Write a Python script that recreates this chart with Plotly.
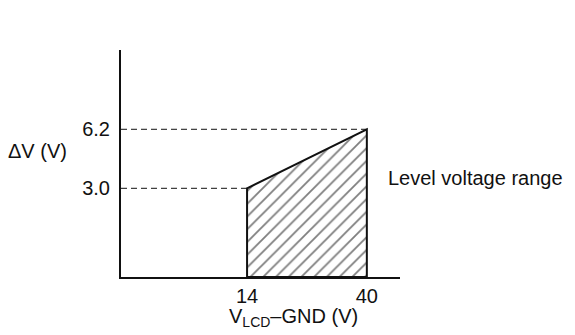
import plotly.graph_objects as go

# Data
x_points = [14, 40]            # V_LCD-GND (V)
y_points = [3.0, 6.2]          # ΔV (V)
x_tick_labels = ["14", "40"]
y_tick_labels = ["3.0", "6.2"]

# schematic axis extents
X_MIN, X_MAX = -13.37, 47.2
Y_MIN, Y_MAX = -1.81, 10.5

FONT = "Liberation Sans, Arial, sans-serif"
FS = 20

fig = go.Figure()

# hatched region
poly_x = [x_points[0], x_points[0], x_points[1], x_points[1], x_points[0]]
poly_y = [Y_MIN, y_points[0], y_points[1], Y_MIN, Y_MIN]
fig.add_trace(go.Scatter(
    x=poly_x, y=poly_y, mode="lines", fill="toself",
    fillcolor="rgba(0,0,0,0)",
    fillpattern=dict(shape="/", size=9, solidity=0.2, fgcolor="#000", bgcolor="white"),
    line=dict(color="#111", width=2), hoverinfo="skip", showlegend=False,
))

# dashed guide lines
for xv, yv in zip(x_points, y_points):
    fig.add_trace(go.Scatter(
        x=[X_MIN, xv], y=[yv, yv], mode="lines",
        line=dict(color="#111", width=1, dash="6px,4px"),
        hoverinfo="skip", showlegend=False,
    ))

fig.update_layout(
    width=575, height=335,
    margin=dict(l=121, r=175, t=50, b=58),
    paper_bgcolor="white", plot_bgcolor="white",
    font=dict(family=FONT, size=FS, color="#111"),
    xaxis=dict(range=[X_MIN, X_MAX], showgrid=False, zeroline=False,
               showline=True, linecolor="#111", linewidth=2,
               tickmode="array", tickvals=x_points, ticktext=x_tick_labels,
               ticks="", ticklabelstandoff=0),
    yaxis=dict(range=[Y_MIN, Y_MAX], showgrid=False, zeroline=False,
               showline=True, linecolor="#111", linewidth=2,
               tickmode="array", tickvals=y_points, ticktext=y_tick_labels,
               ticks="", ticklabelstandoff=5),
    annotations=[
        dict(text="ΔV (V)", xref="paper", yref="paper", x=-0.301, y=0.555,
             xanchor="center", yanchor="middle", showarrow=False,
             font=dict(family=FONT, size=FS)),
        dict(text="Level voltage range", xref="paper", yref="paper", x=0.95, y=0.436,
             xanchor="left", yanchor="middle", showarrow=False,
             font=dict(family=FONT, size=FS)),
        dict(text="V<sub>LCD</sub>–GND (V)", xref="paper", yref="paper", x=0.618, y=-0.18,
             xanchor="center", yanchor="middle", showarrow=False,
             font=dict(family=FONT, size=FS)),
    ],
)

fig.write_html("out.html", config={"displayModeBar": False},
               post_script="document.body.style.margin='0px';")
